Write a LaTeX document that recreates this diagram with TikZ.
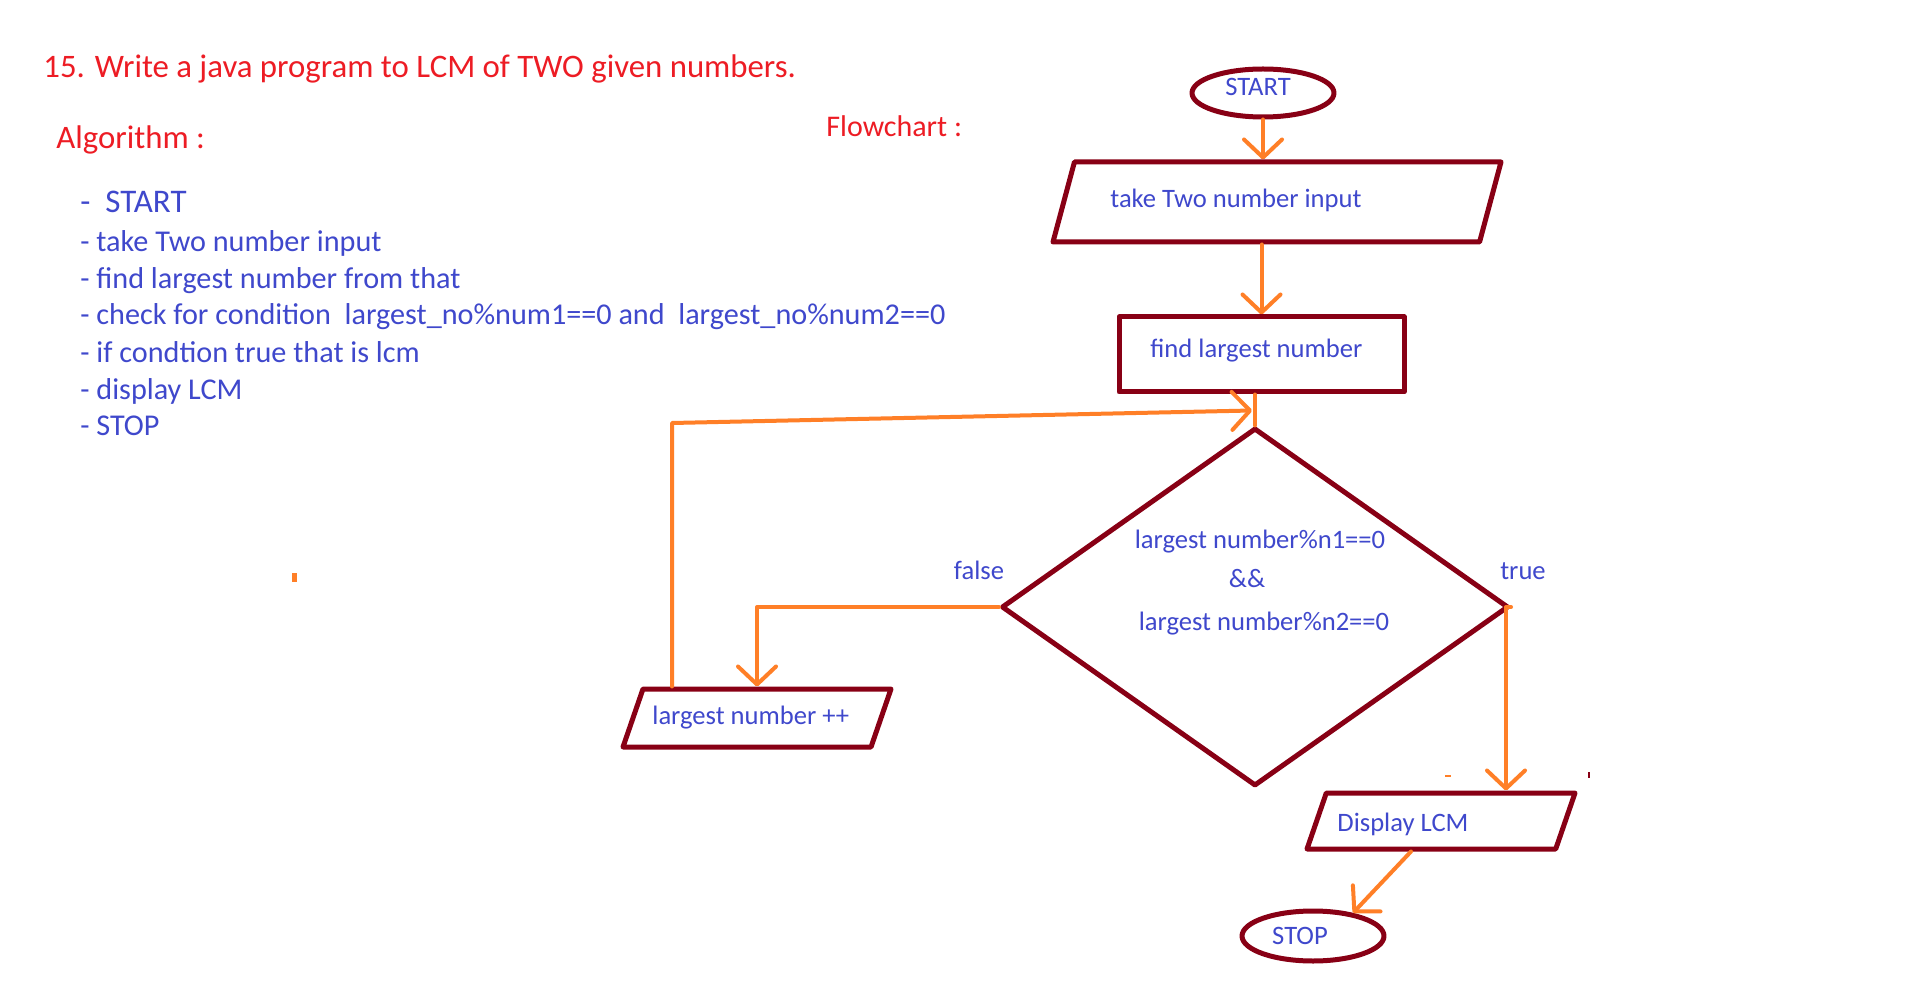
\documentclass[tikz,border=0pt]{standalone}
\usepackage{fontspec}
\setmainfont{Carlito}
\usetikzlibrary{shapes.geometric,arrows.meta,calc}
\definecolor{dred}{RGB}{136,0,21}
\definecolor{org}{RGB}{255,127,39}
\definecolor{tblue}{RGB}{63,72,204}
\definecolor{tred}{RGB}{237,28,36}
\begin{document}
\begin{tikzpicture}[x=0.5pt,y=-0.5pt,
  box/.style={draw=dred,line width=2.5pt,inner sep=0pt,line join=round},
  para/.style={box,trapezium,trapezium stretches body=true,inner xsep=1pt,inner ysep=0pt},
  flow/.style={draw=org,line width=2pt,line cap=round,line join=round},
  arr/.style={flow,-{Straight Barb[length=9pt,width=19pt,round]}},
  ftext/.style={text=tblue,font=\fontsize{13.3}{16}\selectfont,inner sep=0pt,text height=0.7em,text depth=0.2em},
  atext/.style={text=tblue,font=\fontsize{15.1}{18}\selectfont,anchor=west,inner sep=0pt,text height=0.7em,text depth=0.2em},
  rtext/.style={text=tred,anchor=west,inner sep=0pt,text height=0.7em,text depth=0.2em}]
\useasboundingbox[fill=white] (0,0) rectangle (1911,994);

% headings
\node[rtext,font=\fontsize{16.4}{19}\selectfont] (title) at (43,73) {15. Write a java program to LCM of TWO given numbers.};
\node[rtext,font=\fontsize{16.4}{19}\selectfont] (algo) at (56,144) {Algorithm :};
\node[rtext,font=\fontsize{15}{18}\selectfont] (fch) at (826,132) {Flowchart :};

% algorithm list
\node[atext,font=\fontsize{16.5}{19}\selectfont] (a1) at (80,208) {-\ \ START};
\node[atext] (a2) at (80,247) {- take Two number input};
\node[atext] (a3) at (80,284) {- find largest number from that};
\node[atext] (a4) at (80,320) {- check for condition\ \ largest\_no\%num1==0 and\ \ largest\_no\%num2==0};
\node[atext] (a5) at (80,358) {- if condtion true that is lcm};
\node[atext] (a6) at (80,395) {- display LCM};
\node[atext] (a7) at (80,431) {- STOP};

% flowchart shapes
\node[box,ellipse,minimum width=71pt,minimum height=24pt] (start) at (1263,93) {};
\node[para,trapezium left angle=75,trapezium right angle=105,minimum width=224pt] (input) at (1277,202) {\rule{0pt}{40pt}};
\node[box,rectangle,minimum width=142.5pt,minimum height=37.5pt] (find) at (1261.5,354.5) {};
\node[box,diamond,minimum width=253.5pt,minimum height=179pt] (dec) at (1255,607) {};
\node[para,trapezium left angle=71,trapezium right angle=109,minimum width=134pt] (inc) at (757,718) {\rule{0pt}{29pt}};
\node[para,trapezium left angle=71,trapezium right angle=109,minimum width=134pt] (disp) at (1441,821) {\rule{0pt}{28pt}};
\node[box,ellipse,minimum width=71pt,minimum height=25pt] (stop) at (1313,936) {};

% texts
\node[ftext] (tstart) at (1258,91) {START};
\node[ftext,anchor=west] (tinput) at (1110,203) {take Two number input};
\node[ftext,anchor=west] (tfind) at (1150,353) {find largest number};
\node[ftext] (td1) at (1260,543) {largest number\%n1==0};
\node[ftext] (td2) at (1247,582) {\&\&};
\node[ftext] (td3) at (1264,625) {largest number\%n2==0};
\node[ftext] (tfalse) at (979,574) {false};
\node[ftext] (ttrue) at (1523,574) {true};
\node[ftext,anchor=west] (tinc) at (652,719) {largest number ++};
\node[ftext,anchor=west] (tdisp) at (1337,826) {Display LCM};
\node[ftext] (tstop) at (1300,939) {STOP};

% connectors
\coordinate (lc) at (672,423);
\coordinate (lt) at ($(dec.north)+(-3,-15)$);
\draw[arr] (start.south) -- (start.south |- input.north);
\draw[arr] (input.south -| find.north) -- (find.north);
\draw[flow] (dec.north |- find.south) -- (dec.north);
\draw[arr] (inc.north -| lc) -- (lc) -- (lt);
\draw[arr] (dec.west) -| (inc.north);
\draw[arr] (dec.east) -- ++(-5,0) coordinate (te) -- (te |- disp.north);
\draw[arr] ($(disp.south)+(-30,0)$) -- (stop.30);

% stray marks
\fill[org] (292,573) rectangle (297,582);
\fill[org] (1445,775) rectangle (1451,777);
\fill[dred] (1588,772) rectangle (1590,778);
\end{tikzpicture}
\end{document}
